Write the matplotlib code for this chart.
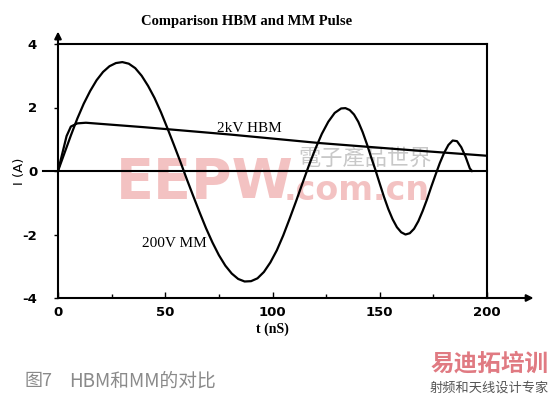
import matplotlib.pyplot as plt
from matplotlib.ticker import MultipleLocator

plt.rcParams["axes.unicode_minus"] = False

# 200V MM pulse
t_mm = [0, 3, 6, 9, 12, 15, 18, 21, 24, 27, 30, 33, 36, 39, 42, 45, 48, 51, 54, 57,
        60, 63, 66, 69, 72, 75, 78, 81, 84, 87, 90, 93, 96, 99, 102, 105, 108, 111,
        114, 117, 120, 123, 126, 129, 132, 134, 136, 138, 140, 142, 144, 146, 148,
        150, 152, 154, 156, 158, 160, 162, 164, 166, 168, 170, 172, 174, 176, 178,
        180, 182, 184, 186, 188, 190, 192, 193]
i_mm = [0, 0.56, 1.12, 1.65, 2.12, 2.52, 2.86, 3.12, 3.3, 3.4, 3.43, 3.38, 3.24,
        3.0, 2.68, 2.3, 1.85, 1.35, 0.83, 0.3, -0.25, -0.78, -1.3, -1.8, -2.25,
        -2.65, -2.98, -3.23, -3.4, -3.48, -3.47, -3.38, -3.18, -2.88, -2.5, -2.03,
        -1.5, -0.95, -0.38, 0.18, 0.7, 1.17, 1.55, 1.83, 1.97, 1.98, 1.92, 1.78,
        1.55, 1.23, 0.85, 0.43, 0.03, -0.4, -0.82, -1.2, -1.52, -1.77, -1.93, -2.0,
        -1.96, -1.82, -1.58, -1.26, -0.9, -0.5, -0.12, 0.25, 0.57, 0.82, 0.96, 0.94,
        0.75, 0.45, 0.08, 0.0]

# 2kV HBM pulse
t_hbm = [0, 2, 4, 6, 9, 13, 40, 80, 122, 160, 200]
i_hbm = [0, 0.55, 1.1, 1.4, 1.5, 1.52, 1.38, 1.15, 0.88, 0.68, 0.48]

x_ticks = [0, 50, 100, 150, 200]
y_ticks = [-4, -2, 0, 2, 4]

fig = plt.figure(figsize=(5.49, 3.99), dpi=100)
ax = fig.add_axes([58/549, 1-298/399, 429/549, 254/399])

ax.plot(t_mm, i_mm, color="black", lw=1.6, zorder=3)
ax.plot(t_hbm, i_hbm, color="black", lw=1.6, zorder=3)
ax.axhline(0, xmin=-0.035, xmax=1, color="black", lw=1.5, clip_on=False, zorder=2)

ax.set_xlim(0, 200)
ax.set_ylim(-4, 4)
ax.set_xticks(x_ticks)
ax.set_yticks(y_ticks)
ax.xaxis.set_minor_locator(MultipleLocator(25))
ax.tick_params(axis="x", which="major", direction="in", length=4, width=1, pad=6)
ax.tick_params(axis="x", which="minor", direction="in", length=3, width=1)
ax.tick_params(axis="y", direction="out", length=3, width=1, pad=12)
for lab in ax.get_xticklabels() + ax.get_yticklabels():
    lab.set_fontweight("bold")
    lab.set_fontsize(9.5)
    lab.set_family("DejaVu Sans")
for s in ax.spines.values():
    s.set_linewidth(1.5)

# arrows on the axes
ax.annotate("", xy=(0, 1.06), xytext=(0, 0.99), xycoords="axes fraction",
            arrowprops=dict(arrowstyle="-|>", color="black", lw=1.5, mutation_scale=10))
ax.annotate("", xy=(1.115, 0), xytext=(0.99, 0), xycoords="axes fraction",
            arrowprops=dict(arrowstyle="-|>", color="black", lw=1.5, mutation_scale=10))

fig.text(247/549, 1-22/399, "Comparison HBM and MM Pulse", family="Liberation Serif",
         fontweight="bold", fontsize=10.5, ha="center", va="center")
ax.set_xlabel("t (nS)", family="Liberation Serif", fontweight="bold", fontsize=10, labelpad=2)
ax.set_ylabel("I (A)", fontsize=9.5)
ax.yaxis.set_label_coords(-0.075, 0.5)

ax.text(74, 1.23, "2kV HBM", family="Liberation Serif", fontsize=11, zorder=4)
ax.text(39, -2.39, "200V MM", family="Liberation Serif", fontsize=11, zorder=4)

# watermark
ax.text(27, -0.85, "EEPW", fontsize=40, fontweight="bold", color="#f2bcbc",
        zorder=1, alpha=0.9)
ax.text(105, -0.9, ".com.cn", fontsize=24, fontweight="bold", color="#f2bcbc",
        zorder=1, alpha=0.9)
ax.text(112, 0.2, "電子產品世界", family="Noto Sans CJK TC", fontsize=16,
        color="#c8c8c8", zorder=1)

# caption and logo
fig.text(24/549, 1-381/399, "图7", family=["Noto Sans CJK SC", "DejaVu Sans"],
         fontsize=13, color="#8a8a8a", va="center")
fig.text(69/549, 1-381/399, "HBM和MM的对比", family=["Noto Sans CJK SC", "DejaVu Sans"],
         fontsize=13.5, color="#8a8a8a", va="center")
fig.text(1.0, 1-364/399, "易迪拓培训", family="Noto Sans CJK SC", fontsize=17,
         fontweight="bold", color="#e07a82", va="center", ha="right")
fig.text(1.0, 1-388/399, "射频和天线设计专家", family="Noto Sans CJK SC", fontsize=9.5,
         color="#555555", va="center", ha="right")

fig.savefig("out.png", dpi=100)
